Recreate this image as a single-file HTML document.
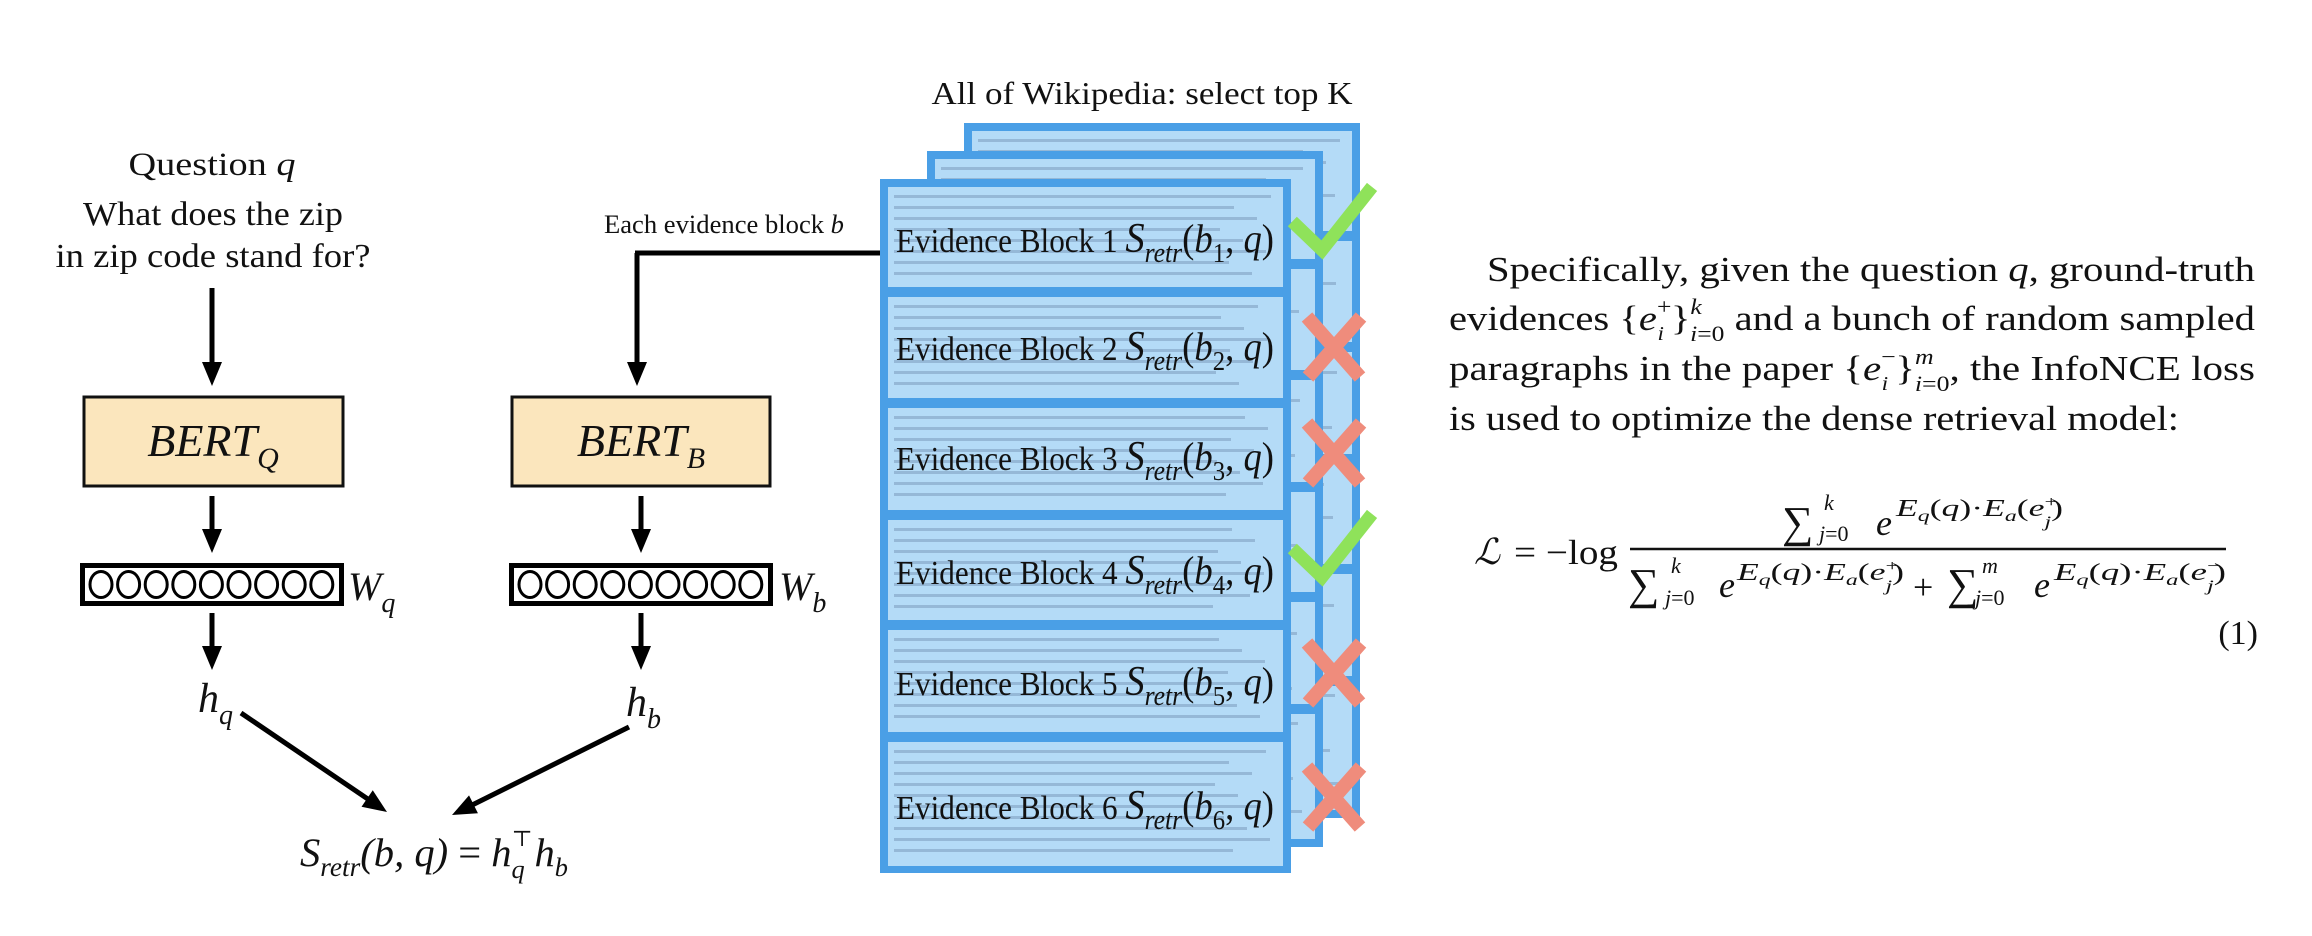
<!DOCTYPE html>
<html>
<head>
<meta charset="utf-8">
<style>
  html,body{margin:0;padding:0;background:#ffffff;}
  svg{display:block;}
  text{font-family:"Liberation Serif","DejaVu Serif",serif;fill:#111;}
  .it{font-style:italic;}
</style>
</head>
<body>
<svg id="fig" width="2312" height="936" viewBox="0 0 2312 936" xmlns="http://www.w3.org/2000/svg">
  <rect x="0" y="0" width="2312" height="936" fill="#ffffff"/>

  <text x="212" y="175" font-size="33" text-anchor="middle" textLength="167" lengthAdjust="spacingAndGlyphs">Question <tspan class="it">q</tspan></text>
  <text x="213" y="225" font-size="34" text-anchor="middle" textLength="260" lengthAdjust="spacingAndGlyphs">What does the zip</text>
  <text x="213" y="267" font-size="34" text-anchor="middle" textLength="315" lengthAdjust="spacingAndGlyphs">in zip code stand for?</text>

  <text x="724" y="233" font-size="26" text-anchor="middle" textLength="240" lengthAdjust="spacingAndGlyphs">Each evidence block <tspan class="it">b</tspan></text>

  <g id="arrows" stroke="#000" fill="#000"></g>

  <rect x="84" y="397" width="259" height="89" fill="#fbe6bd" stroke="#111" stroke-width="3"/>
  <text x="213" y="456" font-size="46" text-anchor="middle" class="it">BERT<tspan font-size="30" dy="12">Q</tspan></text>
  <rect x="512" y="397" width="258" height="89" fill="#fbe6bd" stroke="#111" stroke-width="3"/>
  <text x="641" y="456" font-size="46" text-anchor="middle" class="it">BERT<tspan font-size="30" dy="12">B</tspan></text>

  <g id="vec-q"></g>
  <g id="vec-b"></g>
  <text x="348" y="600" font-size="40" class="it">W<tspan font-size="28" dy="12">q</tspan></text>
  <text x="779" y="600" font-size="40" class="it">W<tspan font-size="28" dy="12">b</tspan></text>

  <text x="198" y="712" font-size="42" class="it">h<tspan font-size="28" dy="12">q</tspan></text>
  <text x="626" y="716" font-size="42" class="it">h<tspan font-size="28" dy="12">b</tspan></text>

  <text x="300" y="866" font-size="40" class="it" textLength="268" lengthAdjust="spacingAndGlyphs">S<tspan font-size="27" dy="10">retr</tspan><tspan dy="-10">(b, q) </tspan><tspan font-style="normal">=</tspan><tspan> h</tspan><tspan font-size="26" dy="12">q</tspan><tspan font-size="22" font-style="normal" dx="-13" dy="-32">⊤</tspan><tspan dx="2" dy="20">h</tspan><tspan font-size="26" dy="10">b</tspan></text>

  <text x="1142" y="104" font-size="32" text-anchor="middle" textLength="421" lengthAdjust="spacingAndGlyphs">All of Wikipedia: select top K</text>
  <g id="stack"></g>
  <g id="labels"></g>
  <g id="marks"></g>

  <g>
    <text x="1487" y="281" font-size="35" textLength="768" lengthAdjust="spacingAndGlyphs">Specifically, given the question <tspan class="it">q</tspan>, ground-truth</text>
    <text x="1449" y="330" font-size="35" textLength="806" lengthAdjust="spacingAndGlyphs">evidences {<tspan class="it">e</tspan><tspan font-size="22" dy="-16">+</tspan><tspan class="it" font-size="20" dx="-12" dy="26">i</tspan><tspan dx="6" dy="-10">}</tspan><tspan class="it" font-size="22" dy="-16">k</tspan><tspan font-size="22" dx="-10" dy="27"><tspan class="it">i</tspan>=0</tspan><tspan dy="-11"> and a bunch of random sampled</tspan></text>
    <text x="1449" y="380" font-size="35" textLength="806" lengthAdjust="spacingAndGlyphs">paragraphs in the paper {<tspan class="it">e</tspan><tspan font-size="22" dy="-16">−</tspan><tspan class="it" font-size="20" dx="-12" dy="26">i</tspan><tspan dx="6" dy="-10">}</tspan><tspan class="it" font-size="22" dy="-16">m</tspan><tspan font-size="22" dx="-16" dy="27"><tspan class="it">i</tspan>=0</tspan><tspan dy="-11">, the InfoNCE loss</tspan></text>
    <text x="1449" y="430" font-size="35" textLength="730" lengthAdjust="spacingAndGlyphs">is used to optimize the dense retrieval model:</text>
  </g>

  <g>
    <text x="1474" y="564" font-size="36" class="it">ℒ</text>
    <text x="1514" y="564" font-size="35" textLength="104" lengthAdjust="spacingAndGlyphs">= −log</text>
    <line x1="1630" y1="549" x2="2226" y2="549" stroke="#111" stroke-width="2.5"/>
    <text x="1782" y="537" font-size="44">∑</text>
    <text x="1824" y="510" font-size="22" class="it">k</text>
    <text x="1819" y="541" font-size="22"><tspan class="it">j</tspan>=0</text>
    <text x="1876" y="535" font-size="36" class="it">e</text>
    <text x="1896" y="516" font-size="24" textLength="167" lengthAdjust="spacingAndGlyphs"><tspan class="it">E<tspan font-size="16" dy="5">q</tspan></tspan><tspan dy="-5">(</tspan><tspan class="it">q</tspan>)·<tspan class="it">E<tspan font-size="16" dy="5">a</tspan></tspan><tspan dy="-5">(</tspan><tspan class="it">e</tspan><tspan font-size="16" dy="-9">+</tspan><tspan font-size="16" class="it" dx="-9" dy="20">j</tspan><tspan dy="-11">)</tspan></text>
    <text x="1628" y="599" font-size="44">∑</text>
    <text x="1671" y="573" font-size="22" class="it">k</text>
    <text x="1665" y="605" font-size="22"><tspan class="it">j</tspan>=0</text>
    <text x="1719" y="597" font-size="36" class="it">e</text>
    <text x="1737" y="580" font-size="24" textLength="167" lengthAdjust="spacingAndGlyphs"><tspan class="it">E<tspan font-size="16" dy="5">q</tspan></tspan><tspan dy="-5">(</tspan><tspan class="it">q</tspan>)·<tspan class="it">E<tspan font-size="16" dy="5">a</tspan></tspan><tspan dy="-5">(</tspan><tspan class="it">e</tspan><tspan font-size="16" dy="-9">+</tspan><tspan font-size="16" class="it" dx="-9" dy="20">j</tspan><tspan dy="-11">)</tspan></text>
    <text x="1913" y="599" font-size="36">+</text>
    <text x="1947" y="599" font-size="44">∑</text>
    <text x="1982" y="573" font-size="22" class="it">m</text>
    <text x="1975" y="605" font-size="22"><tspan class="it">j</tspan>=0</text>
    <text x="2034" y="597" font-size="36" class="it">e</text>
    <text x="2054" y="580" font-size="24" textLength="172" lengthAdjust="spacingAndGlyphs"><tspan class="it">E<tspan font-size="16" dy="5">q</tspan></tspan><tspan dy="-5">(</tspan><tspan class="it">q</tspan>)·<tspan class="it">E<tspan font-size="16" dy="5">a</tspan></tspan><tspan dy="-5">(</tspan><tspan class="it">e</tspan><tspan font-size="16" dy="-9">−</tspan><tspan font-size="16" class="it" dx="-9" dy="20">j</tspan><tspan dy="-11">)</tspan></text>
    <text x="2258" y="644" font-size="34" text-anchor="end">(1)</text>
  </g>
</svg>
<script>
const NS = "http://www.w3.org/2000/svg";
const blockRanges = [[187,287],[297,398],[408,510],[520,620],[630,732],[742,866]];
const blockLabels = ["1","2","3","4","5","6"];
const blockRelevance = ["check","cross","cross","check","cross","cross"];
const labelY = [252,360,470,584,695,819];
const markY = [222,347,453,549,673,797];

function mk(tag, attrs, parent){
  const el = document.createElementNS(NS, tag);
  for (const k in attrs) el.setAttribute(k, attrs[k]);
  parent.appendChild(el);
  return el;
}

const arrowsG = document.getElementById('arrows');
const arrowList = [
  [212,288,212,386],[212,496,212,553],[641,496,641,553],
  [212,613,212,670],[641,613,641,670],[241,713,387,812],[629,727,452,815],[637,253,637,386]
];
arrowList.forEach(function(a){
  const g = mk('g', {}, arrowsG);
  
  
  const dx=a[2]-a[0], dy=a[3]-a[1], L=Math.hypot(dx,dy), ux=dx/L, uy=dy/L;
  const hl=24, hw=10;
  const bx=a[2]-ux*hl, by=a[3]-uy*hl;
  mk('line',{x1:a[0],y1:a[1],x2:bx+ux*2,y2:by+uy*2,'stroke-width':5},g);
  mk('polygon',{points:a[2]+','+a[3]+' '+(bx-uy*hw)+','+(by+ux*hw)+' '+(bx+uy*hw)+','+(by-ux*hw),stroke:'none'},g);
});
const hline = mk('line',{x1:635,y1:253,x2:882,y2:253,'stroke-width':5},arrowsG);



function vec(id, x){
  const g = document.getElementById(id);
  mk('rect',{x:x+2.5,y:565.5,width:259,height:38,fill:'#fff',stroke:'#000','stroke-width':5},g);
  for(let i=0;i<9;i++){
    const c = mk('ellipse',{cx:x+21+i*27.6,cy:584.5,rx:11,ry:13,fill:'none',stroke:'#000','stroke-width':3},g);
    
    
  }
}
vec('vec-q', 80);
vec('vec-b', 509);

const stack = document.getElementById('stack');
const sheets = [[964,123,396,695,-56],[927,151,396,696,-28],[880,179,411,694,0]];
sheets.forEach(function(s, si){
  const g = mk('g', {}, stack);
  
  
  mk('rect',{x:s[0],y:s[1],width:s[2],height:s[3],fill:'#4a9fe6'},g);
  blockRanges.forEach(function(b, bi){
    let y0=b[0]+s[4], y1=b[1]+s[4];
    if (si<2 && bi===5) y1 = s[1]+s[3]-8;
    const r = mk('rect',{x:s[0]+8,y:y0,width:s[2]-16,height:y1-y0,fill:'#b4dbf7'},g);
    
    
    let n=0;
    for(let yy=y0+8; yy<y1-6; yy+=11){
      const w = (s[2]-34) - ((n*37+bi*13)%60);
      mk('rect',{x:s[0]+14,y:yy,width:w,height:3,fill:'#6f8fb0',opacity:0.45},g);
      n++;
    }
  });
});

const labelsG = document.getElementById('labels');
blockLabels.forEach(function(lab, i){
  const t = mk('text',{x:896,y:labelY[i],'font-size':34,textLength:378,lengthAdjust:'spacingAndGlyphs'},labelsG);
  
  
  t.innerHTML = 'Evidence Block '+lab+' <tspan font-style="italic" font-size="42">S</tspan><tspan font-style="italic" font-size="28" dy="10">retr</tspan><tspan font-size="40" dy="-10">(</tspan><tspan font-style="italic" font-size="40">b</tspan><tspan font-size="27" dy="10">'+lab+'</tspan><tspan font-size="40" dy="-10">, </tspan><tspan font-style="italic" font-size="40">q</tspan><tspan font-size="40">)</tspan>';
});

const marksG = document.getElementById('marks');
blockRelevance.forEach(function(m, i){
  const cy = markY[i];
  let el;
  if (m==='check'){
    el = mk('polyline',{points:'1297,'+(cy+4)+' 1322,'+(cy+28)+' 1368,'+(cy-30),fill:'none',stroke:'#8fe25a','stroke-width':13,'stroke-linecap':'square'},marksG);
    
  } else {
    el = mk('path',{d:'M1307 '+(cy-30)+' L1360 '+(cy+30)+' M1361 '+(cy-30)+' L1308 '+(cy+30),fill:'none',stroke:'#ef8c7c','stroke-width':14},marksG);
    
  }
  
});
</script>
</body>
</html>
